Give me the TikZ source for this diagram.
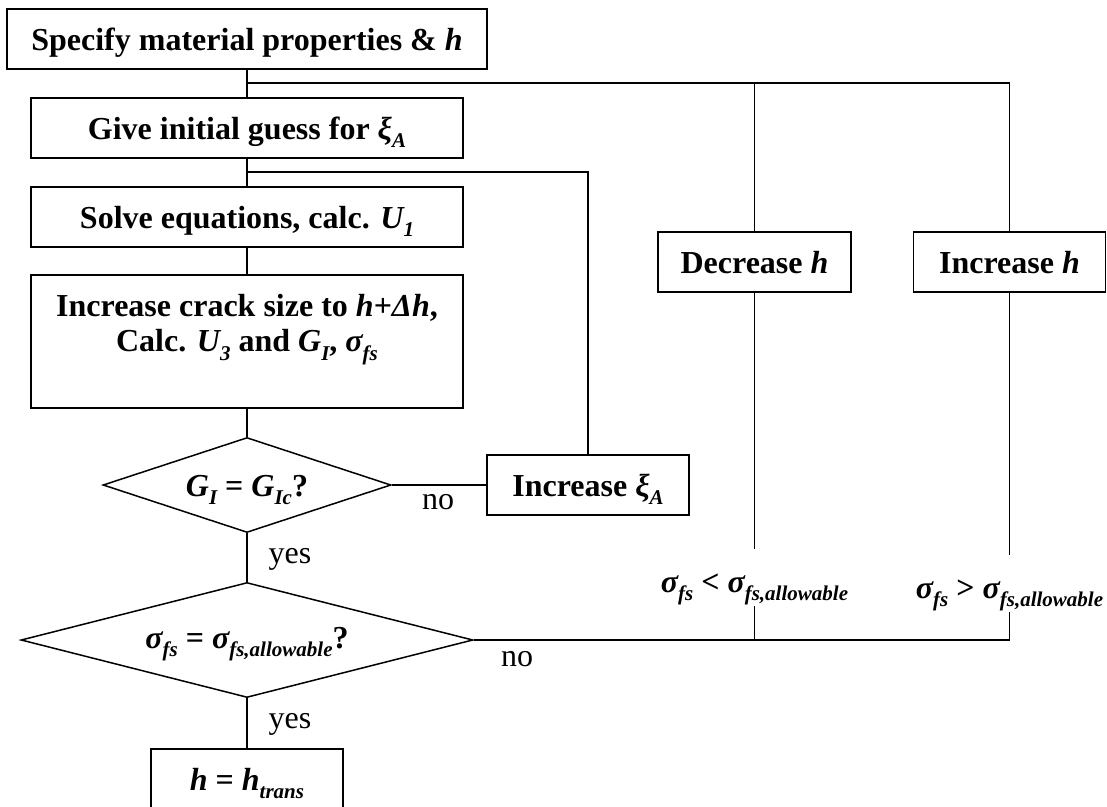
\documentclass[tikz,border=0pt]{standalone}
\usepackage{fontspec}
\setmainfont{Liberation Serif}
\usetikzlibrary{shapes.geometric}
\newcommand{\sbx}[1]{\raisebox{-0.28em}{\fontsize{21}{21}\selectfont #1}}
\begin{document}
\begin{tikzpicture}[x=1pt,y=-1pt,
  txt/.style={font=\fontsize{32}{35}\selectfont},
  box/.style={draw, line width=1.5pt, rectangle, inner sep=0pt, text height=26pt, text depth=4pt, font=\fontsize{32}{35}\selectfont\bfseries},
  decision/.style={draw, line width=1.5pt, diamond, inner sep=0pt, text height=26pt, text depth=4pt, font=\fontsize{32}{35}\selectfont\bfseries},
  conn/.style={line width=1.5pt},
  lbl/.style={inner xsep=0pt, inner ysep=10pt, text height=33pt, text depth=4pt, anchor=base, font=\fontsize{32}{35}\selectfont\bfseries}
]
\useasboundingbox (0,0) rectangle (1107,806);

% main column
\node[box, minimum width=480pt, minimum height=60pt] (b1) at (247,39) {Specify material properties \& \textit{h}};
\node[box, minimum width=432pt, minimum height=60pt] (b2) at (247,128) {Give initial guess for \textit{ξ\sbx{A}}};
\node[box, minimum width=432pt, minimum height=60pt] (b3) at (247,217) {Solve equations, calc. \textit{U\sbx{1}}};
\node[draw, line width=1.5pt, rectangle, inner sep=0pt, minimum width=432pt, minimum height=133pt] (b4) at (247,341.5) {};
\node[txt, align=center, font=\fontsize{32}{35}\selectfont\bfseries] (b4t) at (247,330) {Increase crack size to \textit{h+Δh},\\ Calc. \textit{U\sbx{3}} and \textit{G\sbx{I}}, \textit{σ\sbx{fs}}};
\node[decision, aspect=3, minimum width=288pt, minimum height=95pt] (d1) at (247,485) {\textit{G\sbx{I}} = \textit{G\sbx{Ic}}?};
\node[decision, aspect=4, text height=24pt, text depth=8pt, minimum width=452pt, minimum height=115pt] (d2) at (247,640) {\textit{σ\sbx{fs}} = \textit{σ\sbx{fs,allowable}}?};
\node[box, minimum width=192pt, minimum height=60pt] (b5) at (247,779) {\textit{h} = \textit{h\sbx{trans}}};

% side boxes
\node[box, minimum width=202pt, minimum height=60pt] (incxi) at (588,485) {Increase \textit{ξ\sbx{A}}};
\node[box, minimum width=193pt, minimum height=60pt] (dech) at (754.5,262) {Decrease \textit{h}};
\node[box, minimum width=192pt, minimum height=60pt] (inch) at (1009.5,262) {Increase \textit{h}};

% condition labels
\node[lbl] (lab1) at (754.5,592) {\textit{σ\sbx{fs}} < \textit{σ\sbx{fs,allowable}}};
\node[lbl] (lab2) at (1009.5,598) {\textit{σ\sbx{fs}} > \textit{σ\sbx{fs,allowable}}};

% junction coordinates
\coordinate (j1) at (247,83);
\coordinate (j2) at (754.5,83);
\coordinate (r1) at (247,172);
\coordinate (k1) at (754.5,640);

% connectors
\draw[conn] (b1.south) -- (b2.north);
\draw[conn] (b2.south) -- (b3.north);
\draw[conn] (b3.south) -- (b4.north);
\draw[conn] (b4.south) -- (d1.north);
\draw[conn] (d1.south) -- (d2.north);
\draw[conn] (d2.south) -- (b5.north);
\draw[conn] (j1) -| (inch.north);
\draw[conn] (j2) -- (dech.north);
\draw[conn] (r1) -| (incxi.north);
\draw[conn] (d1.east) -- (incxi.west);
\draw[conn] (dech.south) -- (lab1.north);
\draw[conn] (inch.south) -- (lab2.north);
\draw[conn] (d2.east) -| (lab2.south);
\draw[conn] (lab1.south) -- (k1);

% yes / no labels
\node[txt] (no1) at (438,502) {no};
\node[txt] (no2) at (517,659) {no};
\node[txt] (yes1) at (290,559) {yes};
\node[txt] (yes2) at (290,724) {yes};
\end{tikzpicture}
\end{document}
